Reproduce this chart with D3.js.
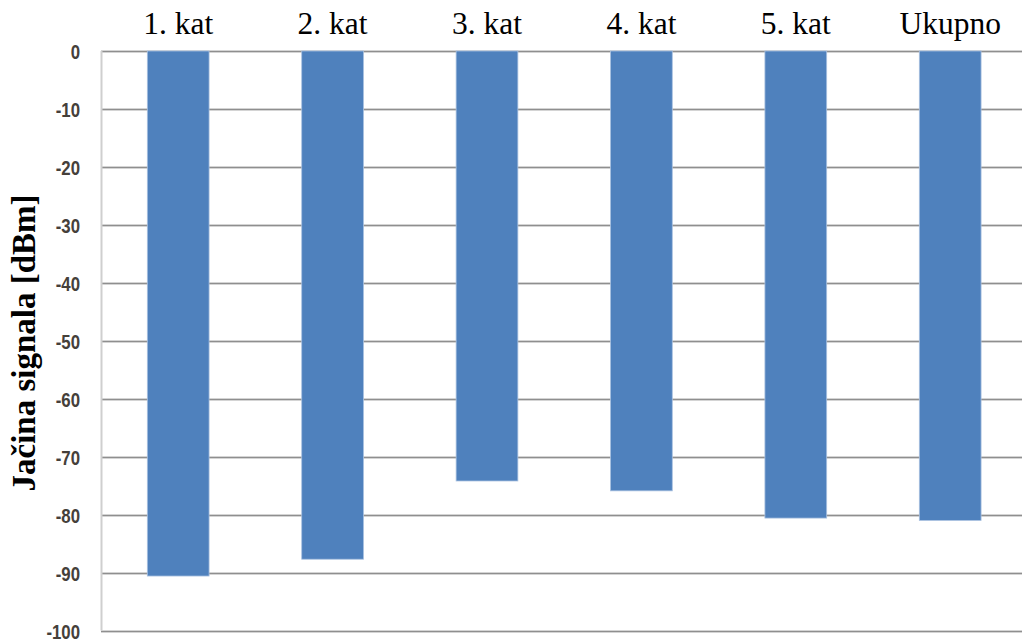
<!DOCTYPE html>
<html>
<head>
<meta charset="utf-8">
<script src="https://cdn.jsdelivr.net/npm/d3@7"></script>
<style>
  html, body { margin: 0; padding: 0; background: #fff; }
  svg { display: block; }
</style>
</head>
<body>
<svg id="chart" width="1022" height="642"></svg>
<script>
const categories = ["1. kat", "2. kat", "3. kat", "4. kat", "5. kat", "Ukupno"];
const values = [-90.6, -87.7, -74.2, -75.9, -80.6, -81.0];
const yTicks = [0, -10, -20, -30, -40, -50, -60, -70, -80, -90, -100];
const yLabel = "Jačina signala [dBm]";

(function () {
const svg = d3.select("#chart");
const mLeft = 101, mTop = 51, mBottom = 630.5, mRight = 1022;

const x = d3.scaleBand().domain(categories).range([mLeft, mLeft + 6 * 154.4])
  .paddingInner(0.6).paddingOuter(0.3);
const y = d3.scaleLinear().domain([0, -100]).range([mTop, mBottom]);

// gridlines
svg.append("g").selectAll("line").data(yTicks).join("line")
  .attr("x1", mLeft).attr("x2", mRight)
  .attr("y1", d => Math.round(y(d)) + 0.5).attr("y2", d => Math.round(y(d)) + 0.5)
  .attr("stroke", "#d4d4d4").attr("stroke-width", 3);
svg.append("g").selectAll("line").data(yTicks).join("line")
  .attr("x1", mLeft).attr("x2", mRight)
  .attr("y1", d => Math.round(y(d)) + 0.5).attr("y2", d => Math.round(y(d)) + 0.5)
  .attr("stroke", "#8f8f8f").attr("stroke-width", 1);

// left axis line
svg.append("line")
  .attr("x1", mLeft + 0.5).attr("x2", mLeft + 0.5)
  .attr("y1", y(0)).attr("y2", y(-100))
  .attr("stroke", "#cfcfcf").attr("stroke-width", 2);

// bars
svg.append("g").selectAll("rect").data(values).join("rect")
  .attr("x", (d, i) => x(categories[i]))
  .attr("width", x.bandwidth())
  .attr("y", y(0))
  .attr("height", d => y(d) - y(0))
  .attr("fill", "#4f81bd")
  .attr("stroke", "#a9c1e0").attr("stroke-width", 0.8);

// y tick labels
const yAxis = d3.axisLeft(y).tickValues(yTicks).tickSize(0).tickPadding(0)
  .tickFormat(d => String(d));
const ga = svg.append("g").attr("transform", "translate(80,0)").call(yAxis);
ga.select(".domain").remove();
ga.selectAll("text")
  .attr("font-family", "'Liberation Sans Narrow', 'Arial Narrow', 'Liberation Sans', sans-serif")
  .attr("font-weight", "bold")
  .attr("font-size", 21)
  .attr("fill", "#45403a")
  .attr("transform", "scale(0.8,1)")
  .attr("dy", "0.36em");

// category labels on top
svg.append("g").selectAll("text").data(categories).join("text")
  .attr("x", d => x(d) + x.bandwidth() / 2)
  .attr("y", 34)
  .attr("text-anchor", "middle")
  .attr("font-family", "'Liberation Serif', 'Times New Roman', serif")
  .attr("font-size", 31.5)
  .attr("fill", "#000")
  .text(d => d);

// y axis title
svg.append("text")
  .attr("transform", "translate(35,343) rotate(-90)")
  .attr("text-anchor", "middle")
  .attr("font-family", "'Liberation Serif', 'Times New Roman', serif")
  .attr("font-weight", "bold")
  .attr("font-size", 33)
  .attr("fill", "#000")
  .text(yLabel);
})();
</script>
</body>
</html>
